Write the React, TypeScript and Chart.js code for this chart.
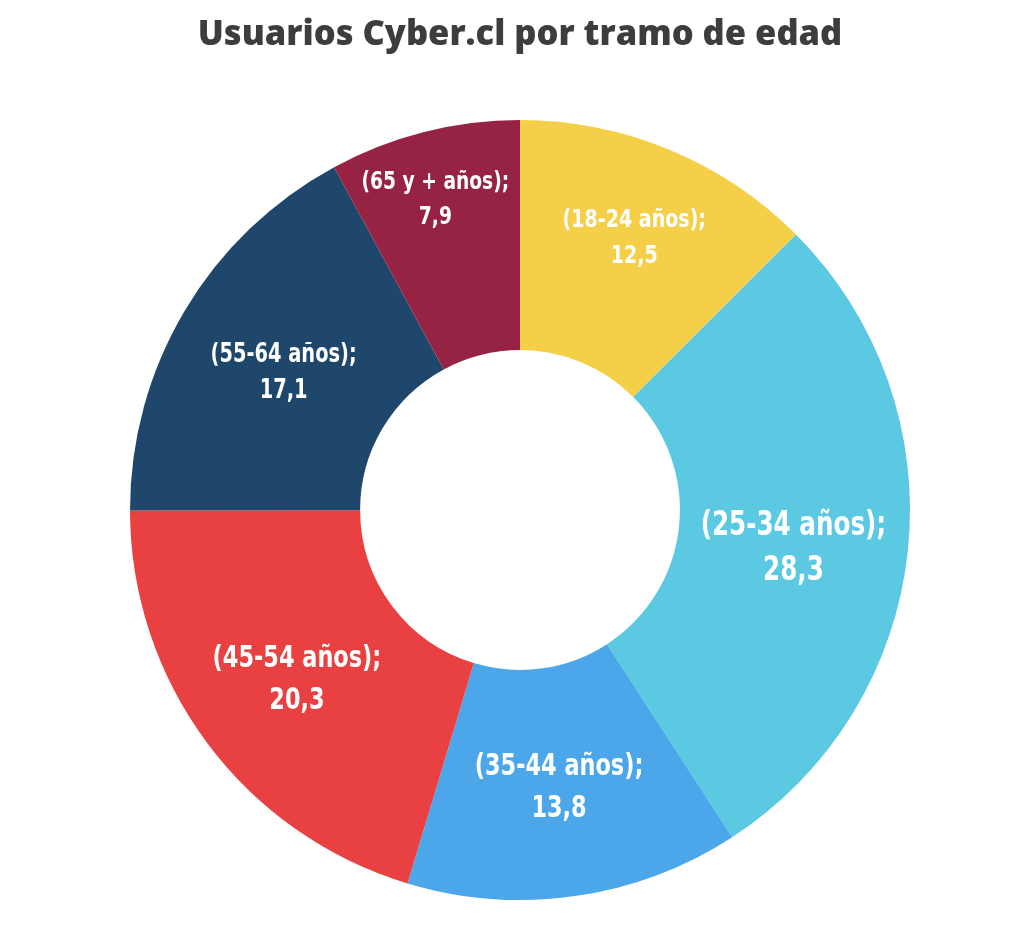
import React, { useRef, useEffect } from "react";
import Chart from "chart.js/auto";

const labels = ["(18-24 años);", "(25-34 años);", "(35-44 años);", "(45-54 años);", "(55-64 años);", "(65 y + años);"];
const values = [12.5, 28.3, 13.8, 20.3, 17.1, 7.9];
const colors = ["#F6CF48", "#5CC9E2", "#4BA7EA", "#E94141", "#1F476B", "#962343"];

// label look per slice
const labelSizes = [25.5, 33, 30, 30, 26, 25];
const labelRadius = [0.765, 0.705, 0.71, 0.713, 0.705, 0.83];

const sliceLabels = {
  id: "sliceLabels",
  afterDatasetsDraw(chart: any) {
    const ctx = chart.ctx;
    const meta = chart.getDatasetMeta(0);
    meta.data.forEach((arc: any, i: number) => {
      const { x, y, startAngle, endAngle, outerRadius } = arc.getProps(
        ["x", "y", "startAngle", "endAngle", "outerRadius"],
        true
      );
      const mid = (startAngle + endAngle) / 2;
      const r = outerRadius * labelRadius[i];
      const cx = x + Math.cos(mid) * r - (i === 5 ? 5 : 0);
      const cy = y + Math.sin(mid) * r + 4 + (i === 1 ? 6 : 0);
      const size = labelSizes[i];
      const lh = Math.min(size * 1.38, 45);
      ctx.save();
      ctx.translate(cx, cy);
      ctx.scale(0.83, 1); // condensed look
      ctx.fillStyle = "#ffffff";
      ctx.textAlign = "center";
      ctx.textBaseline = "middle";
      ctx.font = `bold ${size}px 'DejaVu Sans Condensed', sans-serif`;
      ctx.fillText(labels[i], 0, -lh / 2);
      ctx.fillText(values[i].toFixed(1).replace(".", ","), 0, lh / 2);
      ctx.restore();
    });
  },
};

export default function App() {
  const chartRef = useRef<HTMLCanvasElement | null>(null);
  const chartInstanceRef = useRef<Chart | null>(null);

  useEffect(() => {
    if (!chartRef.current) return;
    const ctx = chartRef.current.getContext("2d");
    if (!ctx) return;
    if (chartInstanceRef.current) chartInstanceRef.current.destroy();

    chartInstanceRef.current = new Chart(ctx, {
      type: "doughnut",
      data: {
        labels,
        datasets: [
          {
            data: values,
            backgroundColor: colors,
            borderWidth: 0,
          },
        ],
      },
      options: {
        responsive: false,
        animation: false,
        cutout: "41%",
        layout: { padding: { left: 14, bottom: 42 } },
        plugins: {
          legend: { display: false },
          tooltip: { enabled: false },
          title: {
            display: true,
            text: "Usuarios Cyber.cl por tramo de edad",
            color: "#3d3d3d",
            font: { family: "'Open Sans', sans-serif", size: 34.5, weight: "800" },
            padding: { top: 14, bottom: 64.6 },
          },
        },
      },
      plugins: [sliceLabels],
    } as any);

    return () => {
      if (chartInstanceRef.current) {
        chartInstanceRef.current.destroy();
        chartInstanceRef.current = null;
      }
    };
  }, []);

  return (
    <div style={{ position: "absolute", left: 0, top: 0, width: 1026, height: 942, background: "#fff" }}>
      <canvas ref={chartRef} width={1026} height={942} />
    </div>
  );
}
